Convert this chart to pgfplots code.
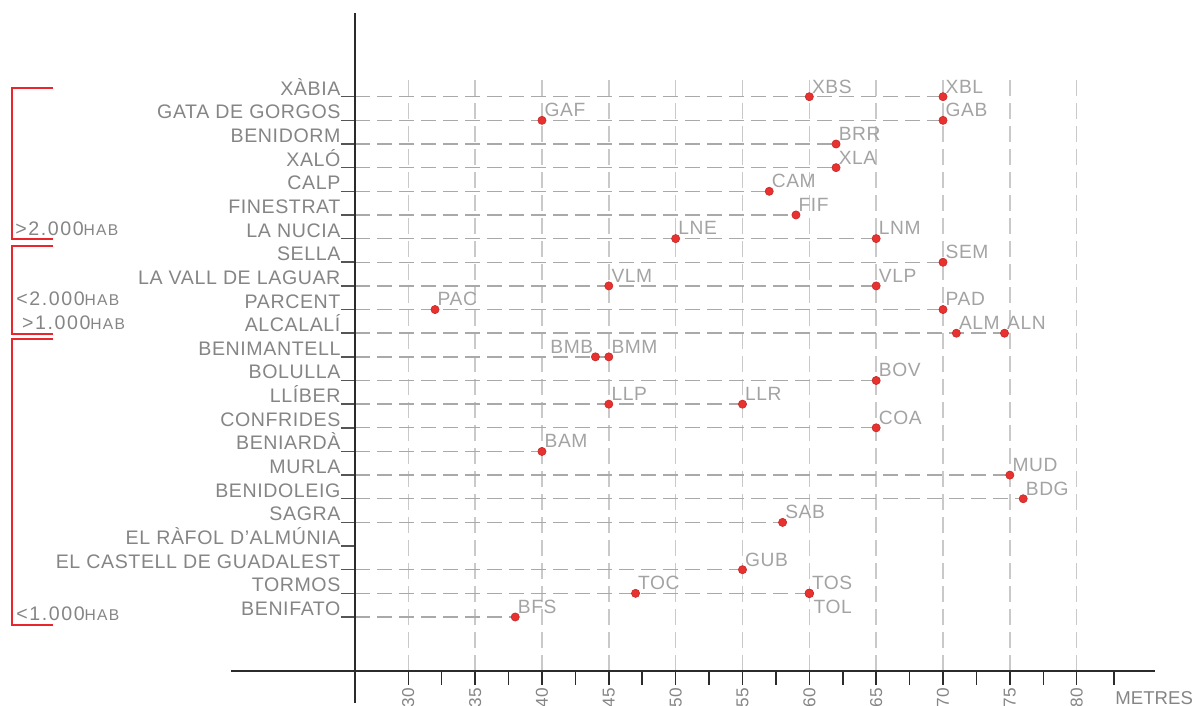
\documentclass[border=0pt]{standalone}
\usepackage{pgfplots}
\pgfplotsset{compat=1.18}
\usepackage{fontspec}
\setmainfont{Liberation Sans}[LetterSpace=3]
\definecolor{namegray}{HTML}{858585}
\definecolor{ptgray}{HTML}{A3A3A3}
\definecolor{axisc}{HTML}{2B2B2B}
\definecolor{gridv}{HTML}{C9C9C9}
\definecolor{hgrid}{HTML}{A9A9A9}
\definecolor{dotred}{HTML}{E8322F}
\definecolor{brackred}{HTML}{E8262B}
\newcommand\fname{\fontsize{9.8}{10}\selectfont}
\newcommand\fpt{\fontsize{9.6}{10}\selectfont}
\newcommand\fsmall{\fontsize{7.8}{8}\selectfont}
\begin{document}
\begin{tikzpicture}
\begin{axis}[
  x=6.684pt, y=11.825pt,
  xmin=26, xmax=85.86, ymin=-1.271, ymax=24.0,
  clip=false,
  axis line style={draw=none},
  tick align=outside,
  major tick length=7pt,
  minor tick length=7pt,
  xtick pos=bottom, ytick pos=left,
  xtick={30,35,...,80},
  xticklabels={30,35,40,45,50,55,60,65,70,75,80},
  minor xtick={32.5,37.5,42.5,47.5,52.5,57.5,62.5,67.5,72.5,77.5,82.8},
  xticklabel shift=1.5pt,
  xticklabel style={rotate=90, anchor=east, inner sep=0pt, font=\fontsize{8.6}{8.6}\selectfont\addfontfeature{LetterSpace=0}, text=namegray},
  xmajorgrids,
  major x grid style={color=gridv, dash pattern=on 8pt off 3.5pt, line width=0.7pt},
  x tick style={color=axisc, line width=0.75pt},
  minor x tick style={color=axisc, line width=0.75pt},
  y tick style={color=axisc!80, line width=0.75pt},
  ytick={1,...,23},
  yticklabels={BENIFATO,TORMOS,EL CASTELL DE GUADALEST,EL RÀFOL D'ALMÚNIA,SAGRA,BENIDOLEIG,MURLA,BENIARDÀ,CONFRIDES,LLÍBER,BOLULLA,BENIMANTELL,ALCALALÍ,PARCENT,LA VALL DE LAGUAR,SELLA,LA NUCIA,FINESTRAT,CALP,XALÓ,BENIDORM,GATA DE GORGOS,XÀBIA},
  yticklabel style={anchor=base east, inner sep=0pt, font=\fname, text=namegray, yshift=0.75pt},
]
% horizontal dashed row lines
\addplot[color=hgrid, dash pattern=on 7.5pt off 3.5pt, line width=0.7pt, unbounded coords=jump, forget plot] table {
x y
26 23
70 23
nan nan
26 22
70 22
nan nan
26 21
62 21
nan nan
26 20
62 20
nan nan
26 19
57 19
nan nan
26 18
59 18
nan nan
26 17
65 17
nan nan
26 16
70 16
nan nan
26 15
65 15
nan nan
26 14
70 14
nan nan
26 13
74.6 13
nan nan
26 12
45 12
nan nan
26 11
65 11
nan nan
26 10
55 10
nan nan
26 9
65 9
nan nan
26 8
40 8
nan nan
26 7
75 7
nan nan
26 6
76 6
nan nan
26 5
58 5
nan nan
26 3
55 3
nan nan
26 2
60 2
nan nan
26 1
38 1
};
% axis lines
\draw[axisc, line width=1pt] (axis cs:26,26.53) -- (axis cs:26,-2.624);
\draw[axisc, line width=1pt] (axis cs:16.74,-1.271) -- (axis cs:85.86,-1.271);
% points, labels upper right
\addplot[only marks, mark=*, mark size=2.05pt,
  mark options={fill=dotred, draw=dotred!85!black, line width=0.3pt},
  nodes near coords, point meta=explicit symbolic,
  every node near coord/.append style={anchor=base west, inner sep=0pt, xshift=1.2pt, yshift=1.8pt, font=\fpt, text=ptgray}]
table[meta=lab] {
x y lab
60 23 XBS
70 23 XBL
40 22 GAF
70 22 GAB
62 21 BRR
62 20 XLA
57 19 CAM
59 18 FIF
50 17 LNE
65 17 LNM
70 16 SEM
45 15 VLM
65 15 VLP
32 14 PAC
70 14 PAD
71 13 ALM
74.6 13 ALN
45 12 BMM
65 11 BOV
45 10 LLP
55 10 LLR
65 9 COA
40 8 BAM
75 7 MUD
76 6 BDG
58 5 SAB
55 3 GUB
47 2 TOC
60 2 TOS
38 1 BFS
};
% label to the left
\addplot[only marks, mark=*, mark size=2.05pt,
  mark options={fill=dotred, draw=dotred!85!black, line width=0.3pt},
  nodes near coords, point meta=explicit symbolic,
  every node near coord/.append style={anchor=base east, inner sep=0pt, xshift=-1pt, yshift=1.8pt, font=\fpt, text=ptgray}]
table[meta=lab] {
x y lab
44 12 BMB
};
% label below
\addplot[only marks, mark=*, mark size=2.2pt,
  mark options={fill=dotred, draw=dotred!85!black, line width=0.3pt},
  nodes near coords, point meta=explicit symbolic,
  every node near coord/.append style={anchor=north west, inner sep=0pt, xshift=2pt, yshift=-3.3pt, font=\fpt, text=ptgray}]
table[meta=lab] {
x y lab
60 2 TOL
};
% brackets
\draw[brackred, line width=0.85pt] (axis cs:3.44,23.355) -- (axis cs:0.33,23.355) -- (axis cs:0.33,16.97) -- (axis cs:3.44,16.97);
\draw[brackred, line width=0.85pt] (axis cs:3.44,16.70) -- (axis cs:0.33,16.70) -- (axis cs:0.33,12.954) -- (axis cs:3.44,12.954);
\draw[brackred, line width=0.85pt] (axis cs:3.44,12.742) -- (axis cs:0.33,12.742) -- (axis cs:0.33,0.662) -- (axis cs:3.44,0.662);
\node[anchor=base west, inner sep=0pt, text=namegray, font=\fname\addfontfeature{LetterSpace=8}] at (axis cs:0.58,17.152) {>2.000{\fsmall HAB}};
\node[anchor=base west, inner sep=0pt, text=namegray, font=\fname\addfontfeature{LetterSpace=8}] at (axis cs:0.65,14.192) {<2.000{\fsmall HAB}};
\node[anchor=base west, inner sep=0pt, text=namegray, font=\fname\addfontfeature{LetterSpace=8}] at (axis cs:1.08,13.165) {>1.000{\fsmall HAB}};
\node[anchor=base west, inner sep=0pt, text=namegray, font=\fname\addfontfeature{LetterSpace=8}] at (axis cs:0.65,0.873) {<1.000{\fsmall HAB}};
\node[anchor=base west, inner sep=0pt, text=namegray, font=\fontsize{9.3}{10}\selectfont\addfontfeature{LetterSpace=0}] at (axis cs:82.87,-2.72) {METRES};
\coordinate (bbBL) at (axis cs:-0.543,-2.763);
\coordinate (bbTR) at (axis cs:88.85,27.089);
\end{axis}
\pgfresetboundingbox
\path[use as bounding box] (bbBL) rectangle (bbTR);
\end{tikzpicture}
\end{document}
